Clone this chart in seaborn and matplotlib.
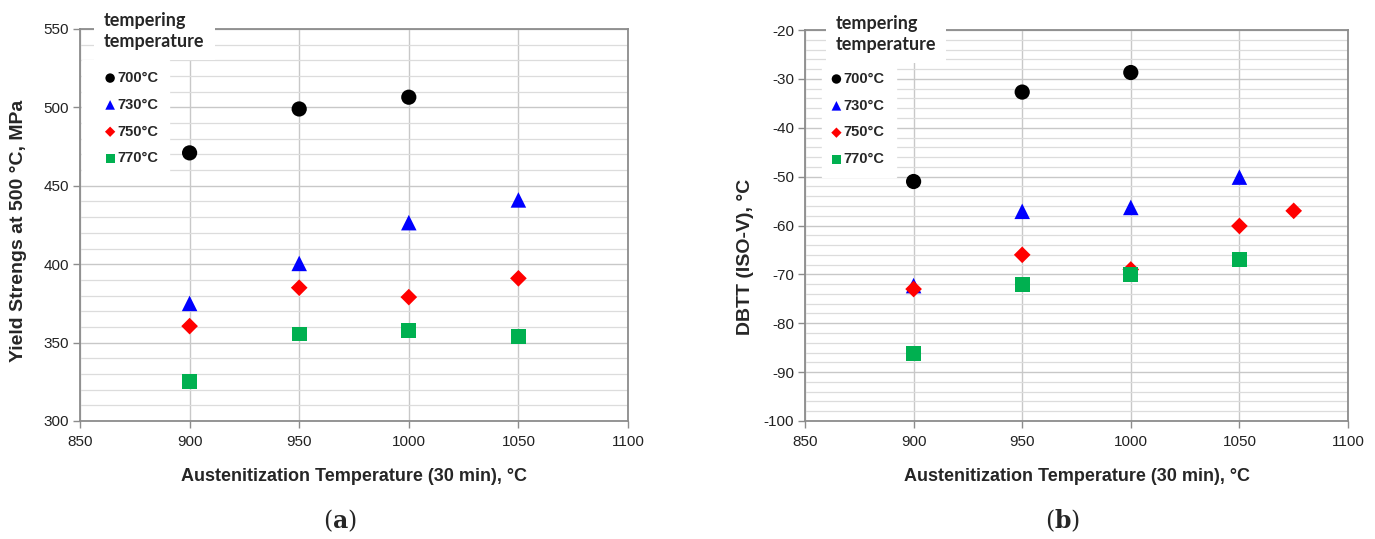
import matplotlib
matplotlib.use("Agg")
import matplotlib.pyplot as plt
import seaborn as sns
import pandas as pd
from matplotlib.ticker import MultipleLocator

# ---- data ----
tempering = ["700°C", "730°C", "750°C", "770°C"]

ys_x_700 = [900, 950, 1000]
ys_700 = [471, 499, 506.5]
ys_x_730 = [900, 950, 1000, 1050]
ys_730 = [375, 400.5, 426.5, 441]
ys_x_750 = [900, 950, 1000, 1050]
ys_750 = [360.5, 385, 379, 391]
ys_x_770 = [900, 950, 1000, 1050]
ys_770 = [325, 355.5, 358, 353.8]

dbtt_x_700 = [900, 950, 1000]
dbtt_700 = [-51, -32.7, -28.7]
dbtt_x_730 = [900, 950, 1000, 1050]
dbtt_730 = [-72.3, -57.1, -56.3, -50.1]
dbtt_x_750 = [900, 950, 1000, 1050, 1075]
dbtt_750 = [-73, -66, -69, -60.1, -57]
dbtt_x_770 = [900, 950, 1000, 1050]
dbtt_770 = [-86.1, -72.1, -70.1, -66.9]

x_ticks = [850, 900, 950, 1000, 1050, 1100]

colors = {"700°C": "#000000", "730°C": "#0000FF", "750°C": "#FF0000", "770°C": "#00B050"}
markers = {"700°C": "o", "730°C": "^", "750°C": "D", "770°C": "s"}
sizes_main = {"700°C": 120, "730°C": 125, "750°C": 72, "770°C": 115}


def long_df(xs, ys):
    rows = []
    for t, xv, yv in zip(tempering, xs, ys):
        for a, b in zip(xv, yv):
            rows.append({"x": a, "y": b, "t": t})
    return pd.DataFrame(rows)


df_ys = long_df([ys_x_700, ys_x_730, ys_x_750, ys_x_770], [ys_700, ys_730, ys_750, ys_770])
df_db = long_df([dbtt_x_700, dbtt_x_730, dbtt_x_750, dbtt_x_770],
                [dbtt_700, dbtt_730, dbtt_750, dbtt_770])

sns.set_style("white")
plt.rcParams["font.family"] = ["Liberation Sans", "DejaVu Sans"]
plt.rcParams["axes.unicode_minus"] = False

fig = plt.figure(figsize=(13.75, 5.39), dpi=100)
ax1 = fig.add_axes([80 / 1375, 1 - 421 / 539, 548 / 1375, 392 / 539])
ax2 = fig.add_axes([805 / 1375, 1 - 421 / 539, 543 / 1375, 391 / 539])


def style_axis(ax, df, ylim, ymajor, yminor, ylabel, ylab_pos,
               title_xy, title_pad, leg_anchor, h_len, h_pad):
    for t in tempering:
        sub = df[df.t == t]
        sns.scatterplot(data=sub, x="x", y="y", ax=ax, color=colors[t], marker=markers[t],
                        s=sizes_main[t], edgecolor="none", linewidth=0, label=t, zorder=3)
    ax.set_xlim(850, 1100)
    ax.set_ylim(*ylim)
    ax.set_xticks(x_ticks)
    ax.yaxis.set_major_locator(MultipleLocator(ymajor))
    ax.yaxis.set_minor_locator(MultipleLocator(yminor))
    ax.grid(which="major", axis="both", color="#c8c8c8", linewidth=1.0, zorder=0)
    ax.grid(which="minor", axis="y", color="#dcdcdc", linewidth=0.9, zorder=0)
    ax.set_axisbelow(True)
    for s in ax.spines.values():
        s.set_color("#8c8c8c")
        s.set_linewidth(1.3)
    ax.tick_params(axis="both", which="major", direction="out", length=5, width=1,
                   color="#8c8c8c", labelsize=11, labelcolor="#222222")
    ax.tick_params(axis="y", which="major", left=True, pad=3)
    ax.tick_params(axis="x", which="major", bottom=True, pad=5)
    ax.set_xlabel("Austenitization Temperature (30 min), °C", fontsize=13,
                  fontweight="bold", labelpad=14)
    ax.set_ylabel(ylabel, fontsize=14, fontweight="bold")
    ax.yaxis.set_label_coords(*ylab_pos)

    # legend title as its own white box
    ax.text(title_xy[0], title_xy[1], "tempering\ntemperature", transform=ax.transAxes,
            ha="left", va="center", family="Lato", fontweight="bold", fontsize=13,
            linespacing=1.3, zorder=6,
            bbox=dict(boxstyle=f"square,pad={title_pad}", facecolor="white",
                      edgecolor="none"))

    handles, labels = ax.get_legend_handles_labels()
    leg = ax.legend(handles, labels, loc="upper left",
                    bbox_to_anchor=leg_anchor, frameon=True, facecolor="white",
                    edgecolor="white", framealpha=1.0, fancybox=False,
                    prop={"family": "Liberation Sans", "weight": "bold", "size": 10.5},
                    markerscale=0.62, handletextpad=h_pad, handlelength=h_len,
                    labelspacing=0.88, borderpad=0.75, borderaxespad=0.0)
    leg.set_zorder(5)


style_axis(ax1, df_ys, (300, 550), 50, 10, "Yield Strengs at 500 °C, MPa",
           (-0.097, 0.485), (0.044, 0.995), 0.55, (0.004, 0.921), 2.33, -0.68)
style_axis(ax2, df_db, (-100, -20), 10, 2, "DBTT (ISO-V), °C",
           (-0.094, 0.42), (0.057, 0.99), 0.55, (0.031, 0.921), 0.5, 0.25)

fig.text(340 / 1375, 1 - 521 / 539, r"($\mathbf{a}$)", ha="center", va="center",
         fontsize=17, family="DejaVu Serif", math_fontfamily="dejavuserif")
fig.text(1063 / 1375, 1 - 521 / 539, r"($\mathbf{b}$)", ha="center", va="center",
         fontsize=17, family="DejaVu Serif", math_fontfamily="dejavuserif")

fig.savefig("out.png", dpi=100)
